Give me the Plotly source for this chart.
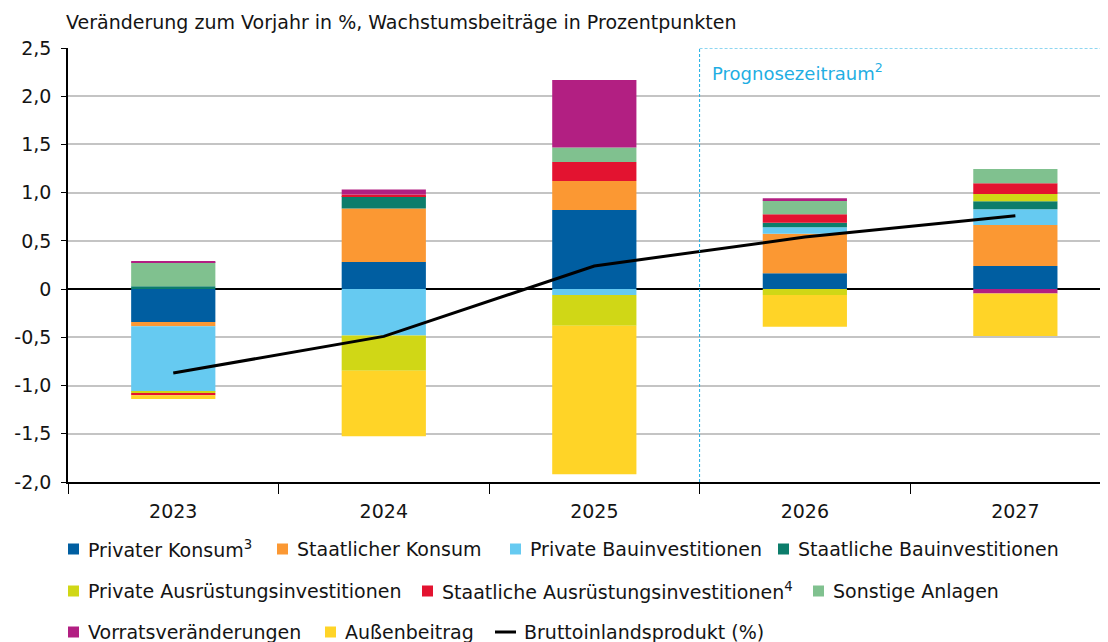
import plotly.graph_objects as go

# ---------------- data ----------------
years = ["2023", "2024", "2025", "2026", "2027"]

privater_konsum = [-0.34, 0.28, 0.82, 0.165, 0.24]
staatlicher_konsum = [-0.045, 0.555, 0.30, 0.41, 0.425]
private_bau = [-0.68, -0.48, -0.06, 0.066, 0.163]
staatliche_bau = [0.03, 0.13, 0.0, 0.048, 0.083]
private_ausruestung = [-0.015, -0.366, -0.32, -0.06, 0.076]
staatliche_ausruestung = [-0.02, 0.015, 0.197, 0.087, 0.111]
sonstige_anlagen = [0.25, 0.0, 0.152, 0.145, 0.148]
vorratsveraenderungen = [0.005, 0.052, 0.70, 0.02, -0.045]
aussenbeitrag = [-0.04, -0.68, -1.54, -0.33, -0.44]
bip = [-0.87, -0.49, 0.24, 0.54, 0.76]

ytick_vals = [-2.0, -1.5, -1.0, -0.5, 0.0, 0.5, 1.0, 1.5, 2.0, 2.5]
ytick_text = ["-2,0", "-1,5", "-1,0", "-0,5", "0", "0,5", "1,0", "1,5", "2,0", "2,5"]

series_names = [
    "Privater Konsum<sup>3</sup>",
    "Staatlicher Konsum",
    "Private Bauinvestitionen",
    "Staatliche Bauinvestitionen",
    "Private Ausrüstungsinvestitionen",
    "Staatliche Ausrüstungsinvestitionen<sup>4</sup>",
    "Sonstige Anlagen",
    "Vorratsveränderungen",
    "Außenbeitrag",
]
series_values = [
    privater_konsum, staatlicher_konsum, private_bau, staatliche_bau,
    private_ausruestung, staatliche_ausruestung, sonstige_anlagen,
    vorratsveraenderungen, aussenbeitrag,
]
series_colors = [
    "#005EA1", "#FB9833", "#66CAF1", "#0C7D6B",
    "#D0D716", "#E31330", "#80C18F", "#B21F82", "#FFD427",
]
line_name = "Bruttoinlandsprodukt (%)"
title_text = "Veränderung zum Vorjahr in %, Wachstumsbeiträge in Prozentpunkten"
prognose_text = "Prognosezeitraum<sup>2</sup>"

# ---------------- layout constants ----------------
OFF = 8                      # page body margin of the html page
W, H = 1108 - OFF, 642 - OFF
PLOT_L, PLOT_T, PLOT_B = 68, 48, 482   # in screenshot pixels
L = PLOT_L - OFF
T = PLOT_T - OFF
B = H - (PLOT_B - OFF)
R = 0
PW = W - L - R
PH = H - T - B
FONT = "DejaVu Sans, Verdana, sans-serif"
FS = 19
TXT = "#141414"
CYAN = "#1FAEE3"


def px_x(px):
    return (px - PLOT_L) / PW


def px_y(py):
    return (PLOT_B - py) / PH


fig = go.Figure()
for name, vals, col in zip(series_names, series_values, series_colors):
    fig.add_trace(go.Bar(
        x=years, y=vals, name=name, width=0.4,
        marker=dict(color=col, line=dict(width=0)),
        showlegend=False,
    ))

fig.add_trace(go.Scatter(
    x=years, y=bip, name=line_name, mode="lines",
    line=dict(color="black", width=3), showlegend=False,
))

shapes = []
annotations = []

# forecast period frame
shapes.append(dict(type="line", xref="x", yref="y", x0=2.5, x1=4.6, y0=2.5, y1=2.5,
                   line=dict(color="white", width=2), layer="above"))
shapes.append(dict(type="line", xref="x", yref="y", x0=2.5, x1=4.6, y0=2.5, y1=2.5,
                   line=dict(color=CYAN, width=1, dash="3px,2px"), layer="above"))
shapes.append(dict(type="line", xref="x", yref="y", x0=2.5, x1=2.5, y0=-2.0, y1=2.5,
                   line=dict(color=CYAN, width=1, dash="3px,2px"), layer="above"))
annotations.append(dict(x=2.5, y=px_y(72), xref="x", yref="paper", xshift=10,
                        text=prognose_text, showarrow=False, xanchor="left", yanchor="middle",
                        font=dict(family=FONT, size=FS - 1, color=CYAN)))

# title
annotations.append(dict(x=px_x(64), y=px_y(22), xref="paper", yref="paper",
                        text=title_text, showarrow=False, xanchor="left", yanchor="middle",
                        font=dict(family=FONT, size=FS, color=TXT)))

# manual legend
legend_rows = [
    (549, [(68, 0), (277, 1), (510, 2), (778, 3)]),
    (591, [(68, 4), (422, 5), (813, 6)]),
    (632, [(68, 7), (325, 8)]),
]
SQ = 11
for ry, items in legend_rows:
    for lx, idx in items:
        shapes.append(dict(type="rect", xref="paper", yref="paper",
                           x0=px_x(lx), x1=px_x(lx + SQ), y0=px_y(ry + SQ / 2), y1=px_y(ry - SQ / 2),
                           fillcolor=series_colors[idx], line=dict(width=0)))
        annotations.append(dict(x=px_x(lx + 18), y=px_y(ry), xref="paper", yref="paper",
                                text=series_names[idx], showarrow=False,
                                xanchor="left", yanchor="middle",
                                font=dict(family=FONT, size=FS, color=TXT)))
# line legend entry
shapes.append(dict(type="line", xref="paper", yref="paper",
                   x0=px_x(495), x1=px_x(516), y0=px_y(632), y1=px_y(632),
                   line=dict(color="black", width=3)))
annotations.append(dict(x=px_x(522), y=px_y(632), xref="paper", yref="paper",
                        text=line_name, showarrow=False, xanchor="left", yanchor="middle",
                        font=dict(family=FONT, size=FS, color=TXT)))

fig.update_layout(
    template="none",
    width=W, height=H,
    margin=dict(l=L, r=R, t=T, b=B, pad=0),
    paper_bgcolor="white", plot_bgcolor="white",
    barmode="relative", bargap=0.6,
    showlegend=False,
    font=dict(family=FONT, size=FS, color=TXT),
    shapes=shapes, annotations=annotations,
    xaxis=dict(
        type="category", range=[-0.5, 4.44], automargin=False,
        showline=True, linecolor="black", linewidth=1.5,
        ticks="outside", tickson="boundaries", ticklen=10, tickcolor="black", tickwidth=1,
        ticklabelstandoff=11,
        showgrid=False, zeroline=False,
        tickfont=dict(family=FONT, size=FS, color=TXT),
    ),
    yaxis=dict(
        range=[-2.0, 2.5], automargin=False,
        tickvals=ytick_vals, ticktext=ytick_text,
        showline=True, linecolor="black", linewidth=1.5,
        ticks="outside", ticklen=5, tickcolor="black", tickwidth=1,
        ticklabelstandoff=6,
        showgrid=True, gridcolor="#C4C4C4", gridwidth=1.5,
        zeroline=True, zerolinecolor="black", zerolinewidth=1.5,
        tickfont=dict(family=FONT, size=FS, color=TXT),
    ),
)

fig.write_html("out.html")
